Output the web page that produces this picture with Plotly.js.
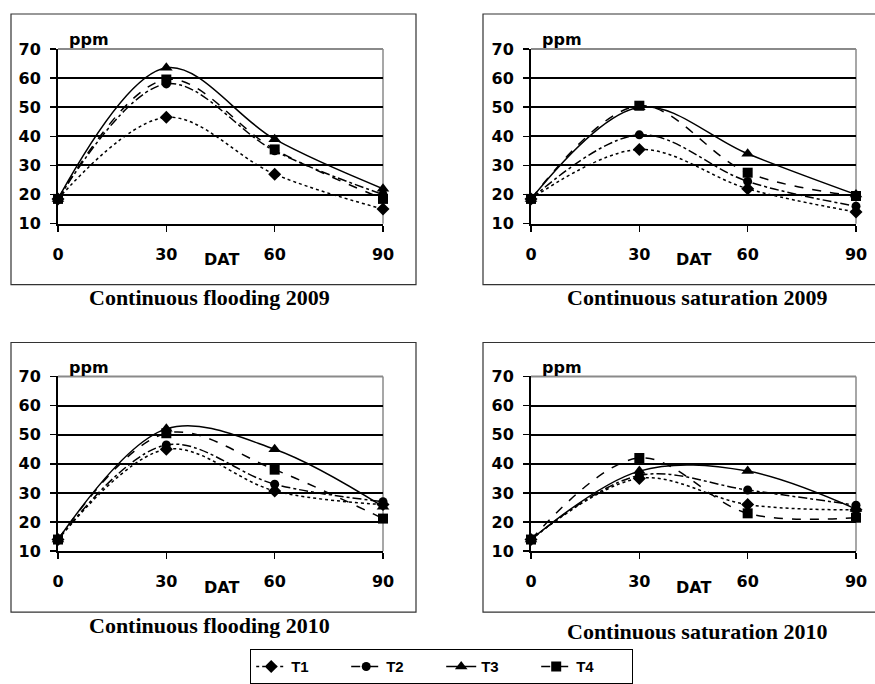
<!DOCTYPE html>
<html>
<head>
<meta charset="utf-8">
<script src="https://cdn.plot.ly/plotly-3.0.1.min.js"></script>
<style>html,body{margin:0;padding:0;background:#fff;}#chart{width:875px;height:684px;}</style>
</head>
<body>
<div id="chart"></div>
<script>
// ---- data ----
const days = [0, 30, 60, 90];
const xTickLabels = ['0', '30', '60', '90'];
const yTicks = [10, 20, 30, 40, 50, 60, 70];
const seriesNames = ['T1', 'T2', 'T3', 'T4'];
const panelTitles = ['Continuous flooding 2009', 'Continuous saturation 2009',
                     'Continuous flooding 2010', 'Continuous saturation 2010'];

const cf09_T1 = [18.5, 46.5, 27.0, 15.0];
const cf09_T2 = [18.5, 58.0, 35.0, 20.0];
const cf09_T3 = [18.5, 63.5, 39.0, 22.0];
const cf09_T4 = [18.5, 59.5, 35.5, 18.5];

const cs09_T1 = [18.5, 35.5, 22.0, 14.0];
const cs09_T2 = [18.5, 40.5, 24.5, 16.0];
const cs09_T3 = [18.5, 50.0, 34.0, 20.0];
const cs09_T4 = [18.5, 50.5, 27.5, 19.5];

const cf10_T1 = [14.0, 45.0, 30.7, 26.0];
const cf10_T2 = [14.0, 46.5, 33.0, 27.0];
const cf10_T3 = [14.0, 52.0, 45.0, 25.3];
const cf10_T4 = [14.0, 50.5, 38.0, 21.2];

const cs10_T1 = [14.0, 35.0, 26.0, 24.2];
const cs10_T2 = [14.0, 36.0, 31.0, 25.8];
const cs10_T3 = [14.0, 37.5, 37.5, 24.5];
const cs10_T4 = [14.0, 42.0, 23.0, 21.5];

const panels = [
  [cf09_T1, cf09_T2, cf09_T3, cf09_T4],
  [cs09_T1, cs09_T2, cs09_T3, cs09_T4],
  [cf10_T1, cf10_T2, cf10_T3, cf10_T4],
  [cs10_T1, cs10_T2, cs10_T3, cs10_T4]
];

// ---- styles ----
const W = 875, H = 684;
const dashes = ['dot', 'dashdot', 'solid', 'dash'];
const symbols = ['diamond', 'circle', 'triangle-up', 'square'];
const markerSizes = [10, 9, 11, 10];
const heavy = 'DejaVu Sans, Verdana, sans-serif';
const sans = 'Liberation Sans, Arial, sans-serif';
const serif = 'Liberation Serif, Times New Roman, serif';

// plot-area pixel geometry [left, right, top, bottom]
const areas = [
  [58, 383, 49, 224],
  [531, 856, 49, 224],
  [58, 383, 377, 552],
  [531, 856, 377, 552]
];
const boxes = [
  [11, 416, 14, 285],
  [483, 878, 14, 285],
  [11, 416, 343, 613],
  [483, 878, 343, 613]
];
const captionY = [298, 298, 626, 632];
const captionX = [209, 697, 209, 697];
const datX = [221, 693, 221, 693];
const datY = [260, 260, 588, 588];

const px = v => v / W;
const py = v => 1 - v / H;

const traces = [];
panels.forEach((series, p) => {
  const sfx = p === 0 ? '' : String(p + 1);
  series.forEach((vals, i) => {
    traces.push({
      x: days, y: vals,
      xaxis: 'x' + sfx, yaxis: 'y' + sfx,
      name: seriesNames[i],
      legendgroup: seriesNames[i],
      showlegend: p === 0,
      mode: 'lines+markers',
      cliponaxis: false,
      line: {color: '#000', width: 1.5, dash: dashes[i], shape: 'spline', smoothing: 1},
      marker: {color: '#000', symbol: symbols[i], size: markerSizes[i]}
    });
  });
});

const tickFont = {family: heavy, size: 16, weight: 'bold', color: '#000'};

const layout = {
  width: W, height: H,
  margin: {l: 0, r: 0, t: 0, b: 0},
  paper_bgcolor: '#fff', plot_bgcolor: '#fff',
  font: {family: sans, color: '#000'},
  showlegend: true,
  legend: {
    orientation: 'h', x: px(441.5), xanchor: 'center', y: py(650), yanchor: 'top',
    bordercolor: '#000', borderwidth: 1.2, bgcolor: '#fff',
    font: {family: sans, size: 15, weight: 'bold', color: '#000'},
    entrywidth: 50, entrywidthmode: 'pixels',
    itemclick: false, itemdoubleclick: false,
    traceorder: 'normal'
  },
  shapes: [], annotations: []
};

areas.forEach((a, p) => {
  const sfx = p === 0 ? '' : String(p + 1);
  layout['xaxis' + sfx] = {
    domain: [px(a[0]), px(a[1])], anchor: 'y' + sfx,
    range: [0, 90], tickvals: days, ticktext: xTickLabels,
    ticks: 'outside', ticklen: 6, tickwidth: 1.5, tickcolor: '#000',
    ticklabelstandoff: 9,
    showline: true, linecolor: '#000', linewidth: 2,
    showgrid: false, zeroline: false, fixedrange: true,
    tickfont: tickFont
  };
  layout['yaxis' + sfx] = {
    domain: [py(a[3]), py(a[2])], anchor: 'x' + sfx,
    range: [10, 70], tickvals: yTicks,
    ticks: 'outside', ticklen: 6, tickwidth: 1.5, tickcolor: '#000',
    ticklabelstandoff: 6,
    showline: true, linecolor: '#000', linewidth: 2,
    showgrid: true, gridcolor: '#000', gridwidth: 2,
    zeroline: false, fixedrange: true,
    tickfont: tickFont
  };
  // gray plot-area frame (top and right edges)
  layout.shapes.push({
    type: 'line', xref: 'x' + sfx + ' domain', yref: 'y' + sfx + ' domain',
    x0: 0, x1: 1, y0: 1, y1: 1, line: {color: '#8a8a8a', width: 2}, layer: 'above'
  });
  layout.shapes.push({
    type: 'line', xref: 'x' + sfx + ' domain', yref: 'y' + sfx + ' domain',
    x0: 1, x1: 1, y0: 0, y1: 1, line: {color: '#8a8a8a', width: 1.5}, layer: 'below'
  });
  // outer chart box
  const b = boxes[p];
  layout.shapes.push({
    type: 'rect', xref: 'paper', yref: 'paper',
    x0: px(b[0]), x1: px(b[1]), y0: py(b[3]), y1: py(b[2]),
    line: {color: '#333', width: 1.2}, layer: 'below'
  });
  layout.annotations.push({
    xref: 'paper', yref: 'paper', x: px(a[0] + 9), y: py(a[2] - 9),
    xanchor: 'left', yanchor: 'middle', showarrow: false, text: 'ppm',
    font: {family: heavy, size: 16, weight: 'bold', color: '#000'}
  });
  layout.annotations.push({
    xref: 'paper', yref: 'paper', x: px(datX[p]), y: py(datY[p]),
    xanchor: 'center', yanchor: 'middle', showarrow: false, text: 'DAT',
    font: {family: heavy, size: 16, weight: 'bold', color: '#000'}
  });
  layout.annotations.push({
    xref: 'paper', yref: 'paper', x: px(captionX[p]), y: py(captionY[p]),
    xanchor: 'center', yanchor: 'middle', showarrow: false, text: panelTitles[p],
    font: {family: serif, size: 22, weight: 'bold', color: '#000'}
  });
});

Plotly.newPlot('chart', traces, layout, {staticPlot: true, displayModeBar: false});
</script>
</body>
</html>
